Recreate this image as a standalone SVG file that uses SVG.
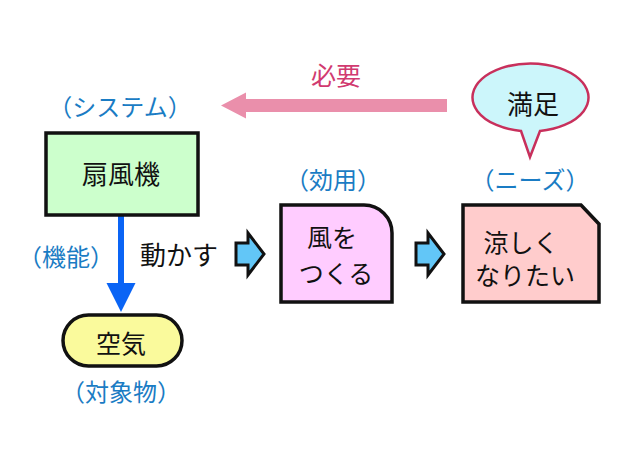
<svg xmlns="http://www.w3.org/2000/svg" width="620" height="465" viewBox="0 0 620 465">
<defs>
<style>
text{font-family:"Noto Sans CJK JP","Noto Sans CJK SC",sans-serif;text-anchor:middle}
.lbl{font-size:24px;fill:#1a7cc4}
.txt{font-size:25px;fill:#111}
.box{stroke:#111;stroke-width:3.5}
.blk{fill:#62c6f7;stroke:#111;stroke-width:3;stroke-linejoin:miter}
</style>
</defs>
<rect width="620" height="465" fill="#fff"/>
<g id="connectors">
<path d="M447,99 L246,99 L246,92.5 L221,105.5 L246,118.5 L246,112 L447,112 Z" fill="#ea8fab"/>
<line x1="121" y1="216" x2="121" y2="285" stroke="#0a64f5" stroke-width="6"/>
<path d="M106.5,283 L135.5,283 L121,312 Z" fill="#0a64f5"/>
<path class="blk" d="M236,243 L248,243 L248,233 L264,254 L248,275 L248,265 L236,265 Z"/>
<path class="blk" d="M416,243 L428,243 L428,233 L444,254 L428,275 L428,265 L416,265 Z"/>
</g>
<text x="336" y="85" style="font-size:25px;fill:#d13a70">必要</text>
<g id="system">
<text class="lbl" x="120" y="116">（システム）</text>
<rect class="box" x="46" y="133" width="152" height="82" fill="#ccffcc"/>
<text class="txt" x="121" y="184" style="font-size:26px">扇風機</text>
</g>
<text class="lbl" x="66" y="266">（機能）</text>
<text class="txt" x="179" y="265" style="font-size:26px">動かす</text>
<g id="object">
<rect class="box" x="63" y="315" width="119" height="51" rx="25.5" fill="#fafa9c"/>
<text class="txt" x="121" y="353">空気</text>
<text class="lbl" x="121" y="401">（対象物）</text>
</g>
<g id="utility">
<text class="lbl" x="333" y="189">（効用）</text>
<path class="box" d="M281,205 L364,205 A28,28 0 0 1 392,233 L392,302 L281,302 Z" fill="#ffccff"/>
<text class="txt" x="332" y="247">風を</text>
<text class="txt" x="336" y="283">つくる</text>
</g>
<g id="needs">
<text class="lbl" x="530" y="189">（ニーズ）</text>
<path class="box" d="M463,205 L581,205 L599,224 L599,302 L463,302 Z" fill="#ffcccc"/>
<text class="txt" x="521" y="252">涼しく</text>
<text class="txt" x="525" y="285">なりたい</text>
</g>
<g id="satisfy">
<path d="M521,131 A58,34 0 1 1 540,131 L530,157 Z" fill="#ccf6fb" stroke="#c8305c" stroke-width="2.5" stroke-linejoin="miter"/>
<text class="txt" x="533" y="114" style="font-size:26px">満足</text>
</g>
</svg>
